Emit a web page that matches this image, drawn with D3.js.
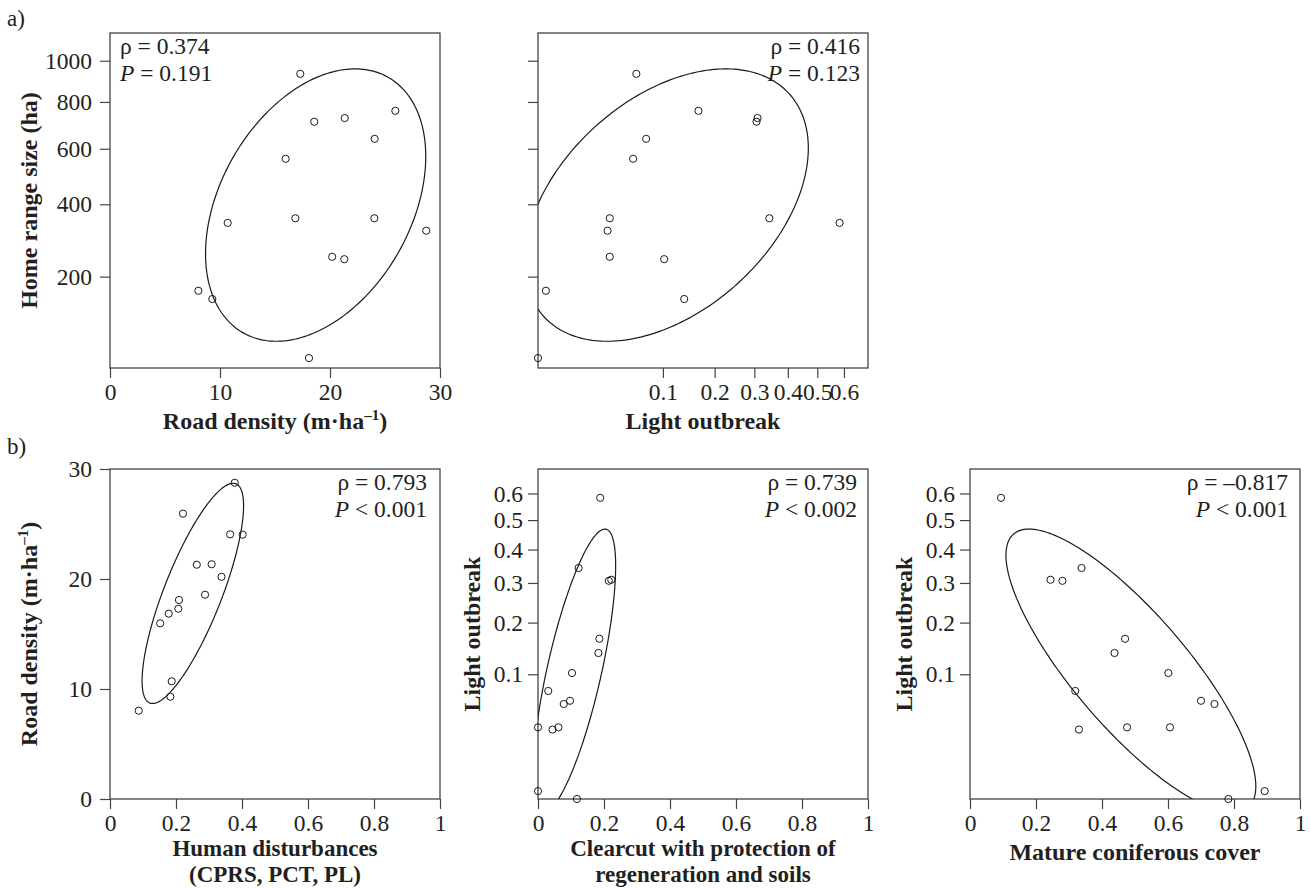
<!DOCTYPE html>
<html>
<head>
<meta charset="utf-8">
<script src="https://cdn.jsdelivr.net/npm/d3@7"></script>
<style>
  body { margin: 0; background: #fff; }
  text { font-family: "Liberation Serif", "Times New Roman", serif; fill: #231f20; }
</style>
</head>
<body>
<div id="chart"></div>
<script>
// one value per animal (same order in every array)
var homeRange     = [934, 760, 728, 712, 640, 561, 356, 356, 342, 319, 248, 242, 169, 152, 57];
var roadDensity   = [17.3, 25.94, 21.34, 18.57, 24.06, 15.97, 16.85, 24.03, 10.7, 28.75, 20.2, 21.3, 8.03, 9.3, 18.09];
var lightOutbreak = [0.062, 0.165, 0.309, 0.306, 0.075, 0.058, 0.033, 0.343, 0.583, 0.031, 0.033, 0.102, 0.0004, 0.137, 0];
var humanDist     = [0.207, 0.221, 0.308, 0.288, 0.364, 0.152, 0.178, 0.402, 0.187, 0.378, 0.338, 0.263, 0.087, 0.183, 0.209];
var cprsCut       = [0.097, 0.186, 0.222, 0.2145, 0.031, 0.078, 0, 0.123, 0.1885, 0.044, 0.062, 0.103, 0, 0.183, 0.118];
var matureCover   = [0.700, 0.470, 0.244, 0.280, 0.319, 0.741, 0.476, 0.338, 0.094, 0.330, 0.606, 0.601, 0.893, 0.438, 0.783];

var homeTicks  = [200, 400, 600, 800, 1000];
var roadTicks  = [0, 10, 20, 30];
var lightTicks = [0.1, 0.2, 0.3, 0.4, 0.5, 0.6];
var propTicks  = [0, 0.2, 0.4, 0.6, 0.8, 1];

var stats = [
  {rho: "0.374",  p: "= 0.191"},
  {rho: "0.416",  p: "= 0.123"},
  {rho: "0.793",  p: "< 0.001"},
  {rho: "0.739",  p: "< 0.002"},
  {rho: "\u20130.817", p: "< 0.001"}
];

var W = 1310, H = 888;
var svg = d3.select("#chart").append("svg")
    .attr("width", W)
    .attr("height", H);

var ellipseLevel = 0.75;
var kRad = Math.sqrt(-2 * Math.log(1 - ellipseLevel));

function ident(v){ return v; }
function sqrtT(v){ return v < 0 ? -Math.sqrt(-v) : Math.sqrt(v); }
function sqInv(t){ return t < 0 ? -t * t : t * t; }

// data ellipse computed in the transformed (plotted) space
function ellipsePts(xs, ys, tx, ty, ix, iy){
    var a = xs.map(tx), b = ys.map(ty);
    var n = a.length;
    var mx = d3.mean(a), my = d3.mean(b);
    var sxx = d3.variance(a), syy = d3.variance(b);
    var sxy = d3.sum(a, function(v, i){ return (v - mx) * (b[i] - my); }) / (n - 1);
    var l11 = Math.sqrt(sxx), l21 = sxy / l11, l22 = Math.sqrt(syy - l21 * l21);
    return d3.range(240).map(function(i){
        var t = i / 240 * 2 * Math.PI;
        var u = kRad * Math.cos(t), v = kRad * Math.sin(t);
        return [ix(mx + l11 * u), iy(my + l21 * u + l22 * v)];
    });
}

var supRoad = [{t: "Road density (m\u00b7ha"}, {t: "\u20131", sup: true}, {t: ")"}];

var panels = [
    {left: 110, top: 33, w: 330, h: 335,
     xs: roadDensity, ys: homeRange,
     x: d3.scaleLinear().domain([0, 30]), xSqrt: false,
     y: d3.scaleSqrt().domain([45.5, 1147]), ySqrt: true,
     xTicks: roadTicks, yTicks: homeTicks, yLabels: true, yPad: 8,
     stat: stats[0], statLeft: true,
     xLabel: [supRoad], yLabel: [{t: "Home range size (ha)"}], yLabelX: 37},
    {left: 538, top: 33, w: 330, h: 335,
     xs: lightOutbreak, ys: homeRange,
     x: d3.scaleSqrt().domain([0, 0.698]), xSqrt: true,
     y: d3.scaleSqrt().domain([45.5, 1147]), ySqrt: true,
     xTicks: lightTicks, yTicks: homeTicks, yLabels: false, yPad: 8,
     stat: stats[1], statLeft: false, statRight: 8,
     xLabel: [[{t: "Light outbreak"}]], yLabel: null},
    {left: 110, top: 469, w: 330, h: 330,
     xs: humanDist, ys: roadDensity,
     x: d3.scaleLinear().domain([0, 1]), xSqrt: false,
     y: d3.scaleLinear().domain([0, 30]), ySqrt: false,
     xTicks: propTicks, yTicks: roadTicks, yLabels: true, yPad: 8,
     stat: stats[2], statLeft: false, statRight: 13,
     xLabel: [[{t: "Human disturbances"}], [{t: "(CPRS, PCT, PL)"}]], yLabel: supRoad, yLabelX: 37},
    {left: 538, top: 469, w: 330, h: 330,
     xs: cprsCut, ys: lightOutbreak,
     x: d3.scaleLinear().domain([0, 1]), xSqrt: false,
     y: d3.scaleSqrt().domain([0, 0.70]), ySqrt: true,
     xTicks: propTicks, yTicks: lightTicks, yLabels: true, yPad: 5,
     stat: stats[3], statLeft: false, statRight: 11,
     xLabel: [[{t: "Clearcut with protection of"}], [{t: "regeneration and soils"}]],
     yLabel: [{t: "Light outbreak"}], yLabelX: 480},
    {left: 970, top: 469, w: 330, h: 330,
     xs: matureCover, ys: lightOutbreak,
     x: d3.scaleLinear().domain([0, 1]), xSqrt: false,
     y: d3.scaleSqrt().domain([0, 0.70]), ySqrt: true,
     xTicks: propTicks, yTicks: lightTicks, yLabels: true, yPad: 5,
     stat: stats[4], statLeft: false, statRight: 12,
     xLabel: [[{t: "Mature coniferous cover"}]],
     yLabel: [{t: "Light outbreak"}], yLabelX: 912}
];

function writeParts(textSel, parts){
    parts.forEach(function(p, i){
        var ts = textSel.append("tspan").text(p.t);
        if(p.sup){
            ts.attr("dy", -9).attr("font-size", "15px");
        } else if(i > 0 && parts[i - 1].sup){
            ts.attr("dy", 9);
        }
    });
}

var fmt = d3.format("");

panels.forEach(function(p, k){
    p.x.range([p.left, p.left + p.w]);
    p.y.range([p.top + p.h, p.top]);

    var g = svg.append("g");

    var clipId = "clip" + k;
    svg.append("clipPath").attr("id", clipId)
        .append("rect")
        .attr("x", p.left).attr("y", p.top)
        .attr("width", p.w).attr("height", p.h);

    // axes
    var xAxis = d3.axisBottom(p.x)
        .tickValues(p.xTicks)
        .tickSize(10)
        .tickPadding(5)
        .tickFormat(fmt);
    var gx = g.append("g")
        .attr("transform", "translate(0," + (p.top + p.h) + ")")
        .call(xAxis);

    var yAxis = d3.axisLeft(p.y)
        .tickValues(p.yTicks)
        .tickSize(10)
        .tickPadding(p.yPad)
        .tickFormat(p.yLabels ? fmt : "");
    var gy = g.append("g")
        .attr("transform", "translate(" + p.left + ",0)")
        .call(yAxis);

    [gx, gy].forEach(function(ax){
        ax.select(".domain").remove();
        ax.attr("font-family", null).attr("font-size", null);
        ax.selectAll(".tick line").attr("stroke", "#444").attr("stroke-width", 1.2);
        ax.selectAll(".tick text").style("font-size", "23.5px").attr("fill", "#231f20");
    });

    // box
    g.append("rect")
        .attr("x", p.left).attr("y", p.top)
        .attr("width", p.w).attr("height", p.h)
        .attr("fill", "none")
        .attr("stroke", "#444")
        .attr("stroke-width", 1.3);

    // ellipse
    var pts = ellipsePts(p.xs, p.ys,
        p.xSqrt ? sqrtT : ident, p.ySqrt ? sqrtT : ident,
        p.xSqrt ? sqInv : ident, p.ySqrt ? sqInv : ident);
    g.append("path")
        .datum(pts)
        .attr("clip-path", "url(#" + clipId + ")")
        .attr("d", d3.line()
            .curve(d3.curveLinearClosed)
            .x(function(d){ return p.x(d[0]); })
            .y(function(d){ return p.y(d[1]); })
        )
        .attr("fill", "none")
        .attr("stroke", "#1a1a1a")
        .attr("stroke-width", 1.2);

    // points
    g.selectAll("circle.pt")
        .data(p.xs.map(function(v, i){ return [v, p.ys[i]]; }))
        .enter().append("circle")
        .attr("class", "pt")
        .attr("cx", function(d){ return p.x(d[0]); })
        .attr("cy", function(d){ return p.y(d[1]); })
        .attr("r", 3.6)
        .attr("fill", "none")
        .attr("stroke", "#1a1a1a")
        .attr("stroke-width", 1);

    // stats
    var sx = p.statLeft ? p.left + 10 : p.left + p.w - p.statRight;
    var anchor = p.statLeft ? "start" : "end";
    g.append("text")
        .attr("x", sx).attr("y", p.top + 21)
        .attr("text-anchor", anchor)
        .style("font-size", "23.5px")
        .text("\u03c1 = " + p.stat.rho);
    var pt = g.append("text")
        .attr("x", sx).attr("y", p.top + 48)
        .attr("text-anchor", anchor)
        .style("font-size", "23.5px");
    pt.append("tspan").attr("font-style", "italic").text("P");
    pt.append("tspan").text(" " + p.stat.p);

    // x label
    var two = p.xLabel.length > 1;
    p.xLabel.forEach(function(line, j){
        var t = g.append("text")
            .attr("x", p.left + p.w / 2)
            .attr("y", p.top + p.h + (two ? 57 : 61) + j * 25.5)
            .attr("text-anchor", "middle")
            .style("font-size", two ? "23px" : "24px")
            .style("font-weight", "bold");
        writeParts(t, line);
    });

    // y label
    if(p.yLabel){
        var cy = p.top + p.h / 2;
        var t = g.append("text")
            .attr("transform", "translate(" + p.yLabelX + "," + cy + ") rotate(-90)")
            .attr("text-anchor", "middle")
            .style("font-size", "24px")
            .style("font-weight", "bold");
        writeParts(t, p.yLabel);
    }
});

svg.append("text").attr("x", 7).attr("y", 26).style("font-size", "23px").text("a)");
svg.append("text").attr("x", 7).attr("y", 454).style("font-size", "23px").text("b)");
</script>
</body>
</html>
